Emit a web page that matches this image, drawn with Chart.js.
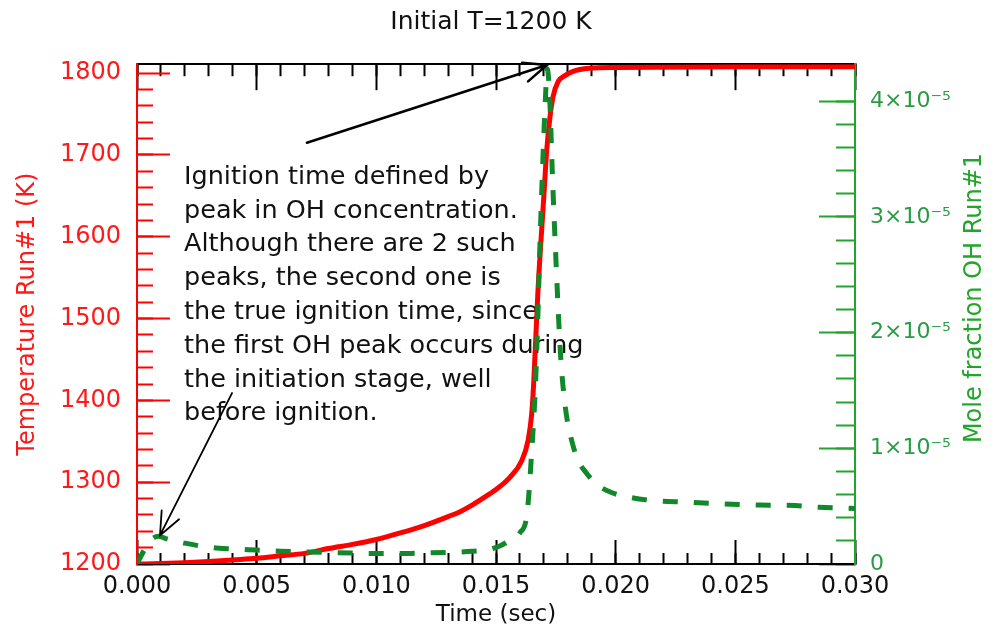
<!DOCTYPE html>
<html>
<head>
<meta charset="utf-8">
<script src="https://cdn.jsdelivr.net/npm/chart.js@4.4.1/dist/chart.umd.min.js"></script>
<style>
    html, body { margin: 0; padding: 0; background: #fff; }
    #wrap { width: 998px; height: 636px; }
</style>
</head>
<body>
<div id="wrap"><canvas id="ignitionChart" width="998" height="636"></canvas></div>
<script>
// Temperature curve (red, left axis)
const timeT = [0, 0.001, 0.002, 0.003, 0.004, 0.005, 0.006, 0.007, 0.008, 0.009, 0.010, 0.011, 0.012, 0.013, 0.0135,
    0.014, 0.01475, 0.015, 0.01558, 0.01607, 0.01634, 0.01649, 0.01658, 0.01675, 0.017, 0.01712, 0.01725, 0.01738,
    0.0176, 0.01788, 0.0182, 0.0189, 0.020, 0.025, 0.030];
const tempK = [1200, 1200.5, 1201.5, 1203, 1205, 1207, 1210, 1213, 1219, 1224, 1230, 1238, 1247, 1258, 1264,
    1272, 1286, 1291, 1306, 1326, 1351, 1383, 1424, 1532, 1650, 1706, 1745, 1771,
    1790, 1797, 1802, 1806, 1807, 1808, 1808];

// OH mole fraction (green dashed, right axis)
const timeOH = [0, 0.0003, 0.0006, 0.0009, 0.0012, 0.0016, 0.002, 0.003, 0.004, 0.005, 0.006, 0.007, 0.008, 0.009,
    0.010, 0.011, 0.012, 0.013, 0.014, 0.0147, 0.0152, 0.0156, 0.016, 0.0163, 0.0165, 0.01665, 0.01675, 0.01685,
    0.01696, 0.01706, 0.01714, 0.01724, 0.01735, 0.0175, 0.0177, 0.0179, 0.0181, 0.0184, 0.0188, 0.0192, 0.0198,
    0.0205, 0.0215, 0.023, 0.0245, 0.026, 0.0275, 0.0285, 0.030];
const moleOH = [0, 1.2e-6, 2.1e-6, 2.4e-6, 2.2e-6, 2.0e-6, 1.8e-6, 1.45e-6, 1.3e-6, 1.2e-6, 1.1e-6, 1.05e-6, 1.0e-6, 0.95e-6,
    0.9e-6, 0.9e-6, 0.95e-6, 1.0e-6, 1.1e-6, 1.25e-6, 1.6e-6, 2.1e-6, 2.7e-6, 4.4e-6, 1.0e-5, 1.55e-5, 2.15e-5, 2.85e-5,
    3.5e-5, 4.0e-5, 4.28e-5, 4.05e-5, 3.4e-5, 2.65e-5, 1.8e-5, 1.35e-5, 1.12e-5, 9.1e-6, 7.8e-6, 6.9e-6, 6.2e-6,
    5.8e-6, 5.5e-6, 5.35e-6, 5.2e-6, 5.1e-6, 5.05e-6, 4.9e-6, 4.8e-6];

// Major tick values
const timeTicks = [0, 0.005, 0.010, 0.015, 0.020, 0.025, 0.030];
const tempTicks = [1200, 1300, 1400, 1500, 1600, 1700, 1800];
const ohTicks = [0, 1e-5, 2e-5, 3e-5, 4e-5];

const noteLines = [
    'Ignition time defined by',
    'peak in OH concentration.',
    'Although there are 2 such',
    'peaks, the second one is',
    'the true ignition time, since',
    'the first OH peak occurs during',
    'the initiation stage, well',
    'before ignition.'
];

// Arrows in data coordinates: [time, temperature]
const arrowStart = [[0.0071, 1715], [0.00397, 1409]];
const arrowEnd = [[0.01713, 1810], [0.00096, 1235]];

const RED = '#ff0000';
const GREEN = '#22a52a';
const FONT = '"DejaVu Sans", sans-serif';

Chart.defaults.font.family = FONT;

function fixSize(size) {
    return scale => {
        if (scale.isHorizontal()) scale.height = size;
        else scale.width = size;
    };
}

function useTicks(values) {
    return scale => { scale.ticks = values.map(v => ({ value: v })); };
}

function keepSteps(step) {
    return scale => {
        scale.ticks = scale.ticks.filter(t => Math.abs(t.value / step - Math.round(t.value / step)) < 1e-6);
    };
}

function minorAxis(position, min, max, step, length, color) {
    return {
        type: 'linear', position, min, max, weight: 0,
        afterBuildTicks: keepSteps(step),
        afterFit: fixSize(0),
        border: { display: false },
        grid: { drawOnChartArea: false, tickLength: -length, tickWidth: 2, tickColor: color },
        ticks: { display: false, stepSize: step, autoSkip: false }
    };
}

function ohLabel(v) {
    if (v === 0) return '0';
    return Math.round(v * 1e5) + '×10⁻⁵';
}

function drawArrow(ctx, x1, y1, x2, y2, width) {
    const angle = Math.atan2(y2 - y1, x2 - x1);
    const head = 25;
    ctx.lineWidth = width;
    ctx.beginPath();
    ctx.moveTo(x1, y1);
    ctx.lineTo(x2, y2);
    ctx.moveTo(x2 - head * Math.cos(angle - 0.4), y2 - head * Math.sin(angle - 0.4));
    ctx.lineTo(x2, y2);
    ctx.lineTo(x2 - head * Math.cos(angle + 0.4), y2 - head * Math.sin(angle + 0.4));
    ctx.stroke();
}

const annotations = {
    id: 'annotations',
    beforeDatasetsDraw(chart) {
        const { ctx, chartArea } = chart;
        ctx.save();
        ctx.fillStyle = '#111';
        ctx.font = '25.5px ' + FONT;
        ctx.textBaseline = 'middle';
        noteLines.forEach((line, i) => {
            ctx.fillText(line, chartArea.left + 47, chartArea.top + 113 + i * 33.8);
        });
        ctx.restore();
    },
    afterDatasetsDraw(chart) {
        const { ctx, scales } = chart;
        ctx.save();
        ctx.strokeStyle = '#000';
        ctx.lineCap = 'round';
        arrowStart.forEach((s, i) => {
            const e = arrowEnd[i];
            drawArrow(ctx,
                scales.x.getPixelForValue(s[0]), scales.y.getPixelForValue(s[1]),
                scales.x.getPixelForValue(e[0]), scales.y.getPixelForValue(e[1]),
                i === 0 ? 2.5 : 1.8);
        });
        ctx.restore();
    },
    afterDraw(chart) {
        const { ctx } = chart;
        ctx.save();
        ctx.fillStyle = '#111';
        ctx.font = '25px ' + FONT;
        ctx.textAlign = 'center';
        ctx.textBaseline = 'middle';
        ctx.fillText('Initial T=1200 K', 491, 22);

        ctx.translate(975, 298);
        ctx.rotate(-Math.PI / 2);
        ctx.fillStyle = GREEN;
        ctx.font = '24px ' + FONT;
        ctx.fillText('Mole fraction OH Run#1', 0, 0);
        ctx.restore();
    }
};

const ctx = document.getElementById('ignitionChart').getContext('2d');

new Chart(ctx, {
    type: 'line',
    data: {
        datasets: [{
            label: 'Mole fraction OH Run#1',
            data: timeOH.map((t, i) => ({ x: t, y: moleOH[i] })),
            xAxisID: 'x',
            yAxisID: 'y2',
            borderColor: '#11882a',
            borderWidth: 5,
            borderDash: [15, 16],
            pointRadius: 0,
            cubicInterpolationMode: 'monotone',
            fill: false
        }, {
            label: 'Temperature Run#1',
            data: timeT.map((t, i) => ({ x: t, y: tempK[i] })),
            xAxisID: 'x',
            yAxisID: 'y',
            borderColor: RED,
            borderWidth: 5,
            pointRadius: 0,
            cubicInterpolationMode: 'monotone',
            fill: false
        }]
    },
    options: {
        responsive: false,
        devicePixelRatio: 1,
        animation: false,
        events: [],
        layout: { padding: 0 },
        plugins: {
            legend: { display: false },
            tooltip: { enabled: false },
            title: { display: false }
        },
        scales: {
            x: {
                type: 'linear', position: 'bottom', min: 0, max: 0.03, weight: 1,
                afterBuildTicks: useTicks(timeTicks),
                afterFit: fixSize(72),
                border: { color: '#000', width: 2 },
                grid: { drawOnChartArea: false, tickLength: -24, tickWidth: 2, tickColor: '#000' },
                ticks: {
                    padding: 32, autoSkip: false, maxRotation: 0, color: '#111',
                    font: { size: 24 },
                    callback: v => v.toFixed(3)
                },
                title: {
                    display: true, text: 'Time (sec)', color: '#111',
                    font: { size: 23 }, padding: { top: 0, bottom: 7 }
                }
            },
            xMinor: minorAxis('bottom', 0, 0.03, 0.001, 11, '#000'),
            xTop: {
                type: 'linear', position: 'top', min: 0, max: 0.03, weight: 1,
                afterBuildTicks: useTicks(timeTicks),
                afterFit: fixSize(61),
                border: { color: '#000', width: 2 },
                grid: { drawOnChartArea: false, tickLength: -26, tickWidth: 2, tickColor: '#000' },
                ticks: { display: false }
            },
            xTopMinor: minorAxis('top', 0, 0.03, 0.001, 12, '#000'),
            y: {
                type: 'linear', position: 'left', min: 1200, max: 1811, weight: 1,
                afterBuildTicks: useTicks(tempTicks),
                afterFit: fixSize(137),
                border: { color: RED, width: 2 },
                grid: { drawOnChartArea: false, tickLength: -33, tickWidth: 2, tickColor: RED },
                ticks: {
                    padding: 49, color: '#ff1a1a',
                    font: { size: 24 },
                    callback: v => v.toFixed(0)
                },
                title: {
                    display: true, text: 'Temperature Run#1 (K)', color: '#ff1a1a',
                    font: { size: 24 }, padding: { top: 13, bottom: 0 }
                }
            },
            yMinor: minorAxis('left', 1200, 1811, 20, 16, RED),
            y2: {
                type: 'linear', position: 'right', min: 0, max: 4.32e-5, weight: 1,
                afterBuildTicks: useTicks(ohTicks),
                afterFit: fixSize(143),
                border: { color: GREEN, width: 2 },
                grid: { drawOnChartArea: false, tickLength: -36, tickWidth: 2, tickColor: GREEN },
                ticks: {
                    padding: 51, color: '#2a9a45',
                    font: { size: 22 },
                    callback: ohLabel
                }
            },
            y2Minor: minorAxis('right', 0, 4.32e-5, 2e-6, 19, GREEN)
        }
    },
    plugins: [annotations]
});
</script>
</body>
</html>
